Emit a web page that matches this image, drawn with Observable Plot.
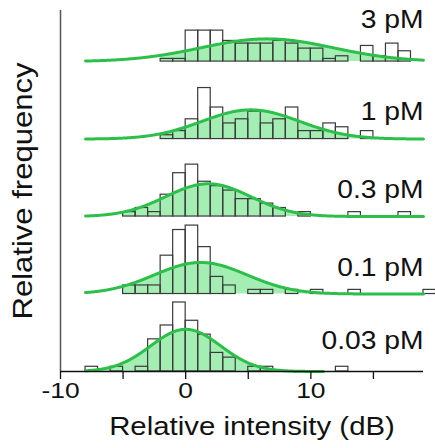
<!DOCTYPE html>
<html><head><meta charset="utf-8">
<script src="https://cdn.jsdelivr.net/npm/d3@7"></script>
<script src="https://cdn.jsdelivr.net/npm/@observablehq/plot@0.6"></script>
<style>html,body{margin:0;padding:0;background:#fff} svg{display:block}</style>
</head><body><div id="chart"></div>
<script>
// ---- data (relative frequency in %, 1-dB bins) ----
const concentrations = ["3 pM", "1 pM", "0.3 pM", "0.1 pM", "0.03 pM"];
const firstBinEdge = [-2, -2, -5, -5, -8];
const freq3pM   = [0.9,0.9,10.5,10.5,10.5,7.0,6.1,6.1,6.1,7.0,6.1,4.4,4.4,0.9,1.8,0,5.3,1.8,6.1,3.5];
const freq1pM   = [1.3,2.7,6.7,17.3,10.7,5.3,6.7,9.3,5.3,6.7,10.7,2.7,2.7,5.3,4.0,0,2.7];
const freq03pM  = [1.5,2.9,1.5,7.4,14.7,17.6,11.8,10.3,8.8,5.9,5.9,4.4,2.9,0,1.5,0,0,0,1.5,0,0,0,1.5];
const freq01pM  = [2.9,2.9,2.9,13.0,21.7,23.2,15.9,5.8,2.9,0,1.4,1.4,0,1.4,0,1.4,0,0,1.4,0,0,0,0,0,1.4];
const freq003pM = [1.6,0,1.6,0,1.6,10.9,15.6,23.4,17.2,12.5,6.3,4.7,0,1.6,1.6,0,0,0,0,0,1.6];
const frequencies = [freq3pM, freq1pM, freq03pM, freq01pM, freq003pM];
// Gaussian fit parameters
const fitMean  = [6.5, 5.2, 1.8, 1.2, 0.0];
const fitSigma = [5.3, 3.9, 3.4, 3.7, 2.8];
const fitPeak  = [7.7, 9.9, 11.1, 10.7, 14.3];
const fitFrom  = [-8, -8, -8, -8, -8];
const fitTo    = [19, 19, 19, 19, 11];
const xTickLabels = [-10, 0, 10];
const xMinorTicks = [-5, 5, 15];

// ---- layout ----
const panelStep = 26.27;              // vertical offset between stacked histograms (y units)
const labelRaise = [11.5, 6.6, 6.3, 6.0, 7.5];
const offset = i => (concentrations.length - 1 - i) * panelStep;

const bars = [];
frequencies.forEach((arr, i) => arr.forEach((f, j) => {
  if (f > 0) bars.push({panel: concentrations[i], x1: firstBinEdge[i] + j, x2: firstBinEdge[i] + j + 1, y1: offset(i), y2: offset(i) + f});
}));
const gauss = (i, x) => fitPeak[i] * Math.exp(-((x - fitMean[i]) ** 2) / (2 * fitSigma[i] ** 2));
const curve = [], fill = [];
concentrations.forEach((c, i) => {
  const lastEdge = firstBinEdge[i] + frequencies[i].length;
  for (let k = 0; k <= 400; k++) {
    const x = fitFrom[i] + (fitTo[i] - fitFrom[i]) * k / 400;
    curve.push({panel: c, x, y: offset(i) + gauss(i, x)});
    if (x >= firstBinEdge[i] && x <= lastEdge) fill.push({panel: c, x, y1: offset(i), y2: offset(i) + gauss(i, x)});
  }
});

const font = "'Liberation Sans', Arial, Helvetica, sans-serif";
const chart = Plot.plot({
  width: 435, height: 448,
  marginLeft: 60, marginRight: 12, marginTop: 10, marginBottom: 77,
  style: {fontFamily: font, background: "#fff", color: "#111"},
  x: {domain: [-10, 19], axis: null},
  y: {domain: [0, 122.4], axis: null},
  marks: [
    Plot.areaY(fill, {x: "x", y1: "y1", y2: "y2", z: "panel", fill: "#a4eeb4"}),
    Plot.rect(bars, {x1: "x1", x2: "x2", y1: "y1", y2: "y2", fill: "none", stroke: "#3a3a3a", strokeWidth: 1.2}),
    Plot.line(curve, {x: "x", y: "y", z: "panel", stroke: "#2cbf4a", strokeWidth: 3}),
    Plot.text(concentrations, {x: 19, y: (d, i) => offset(i) + labelRaise[i], text: d => d, textAnchor: "end", lineAnchor: "bottom", fontSize: 25, fill: "#111"}),
    Plot.ruleX([-10], {stroke: "#555", strokeWidth: 1.5}),
    Plot.ruleY([0], {stroke: "#111", strokeWidth: 1.5}),
    Plot.axisX(xTickLabels, {tickSize: 8, tickPadding: 3, fontSize: 22, label: null, tickFormat: d => String(d), stroke: "#111", strokeWidth: 1.3, fill: "#111"}),
    Plot.axisX(xMinorTicks, {tickSize: 8, text: null, label: null, stroke: "#111", strokeWidth: 1.3}),
    Plot.text(["Relative intensity (dB)"], {frameAnchor: "bottom", dx: 10, dy: 63, fontSize: 26, fill: "#111"}),
    Plot.text(["Relative frequency"], {frameAnchor: "left", dx: -37, rotate: -90, textAnchor: "middle", fontSize: 27, fill: "#111"})
  ]
});
// the reference lettering is wider than Arial at the same height: stretch along the text direction
const stretchBySize = {22: 1.2, 25: 1.13, 26: 1.13, 27: 1.15};
d3.select(chart).selectAll("text").each(function() {
  const holder = this.closest("[font-size]");
  const s = (holder && stretchBySize[parseFloat(holder.getAttribute("font-size"))]) || 1.15;
  const t = this.getAttribute("transform");
  if (t) this.setAttribute("transform", t + ` scale(${s},1)`);
  else {
    const x = +this.getAttribute("x") || 0, y = +this.getAttribute("y") || 0;
    this.setAttribute("transform", `translate(${x},${y}) scale(${s},1) translate(${-x},${-y})`);
  }
});
document.getElementById("chart").appendChild(chart);
</script>
</body></html>
